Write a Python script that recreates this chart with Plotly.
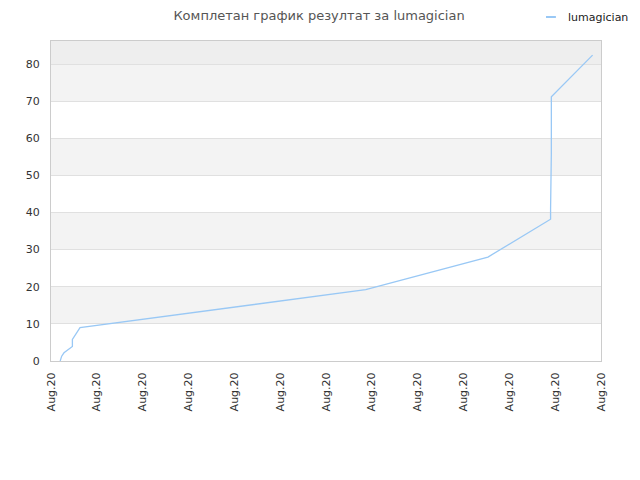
import plotly.graph_objects as go

# results over one day (Aug 20)
times = [
    "2020-08-20 08:12", "2020-08-20 08:14", "2020-08-20 08:17", "2020-08-20 08:28",
    "2020-08-20 08:28", "2020-08-20 08:33", "2020-08-20 08:38", "2020-08-20 14:52",
    "2020-08-20 17:32", "2020-08-20 18:54", "2020-08-20 18:54", "2020-08-20 18:55",
    "2020-08-20 18:55", "2020-08-20 19:49",
]
scores = [0, 1.3, 2.2, 3.9, 5.8, 7.6, 9.0, 19.2, 28.0, 38.2, 40.9, 56.0, 71.2, 82.4]

player = "lumagician"
title = "Комплетан график резултат за lumagician"
line_color = "#99c8f5"

fig = go.Figure()
fig.add_trace(go.Scatter(
    x=times, y=scores, mode="lines", name=player,
    line=dict(color=line_color, width=1.3), showlegend=False,
))

# alternating background bands
shapes = []
for lo in range(10, 80, 20):
    shapes.append(dict(type="rect", xref="paper", yref="y", x0=0, x1=1, y0=lo, y1=lo + 10,
                       fillcolor="#f3f3f3", line_width=0, layer="below"))
shapes.append(dict(type="rect", xref="paper", yref="y", x0=0, x1=1, y0=80, y1=86.2,
                   fillcolor="#eeeeee", line_width=0, layer="below"))
# small legend swatch (top right)
shapes.append(dict(type="line", xref="paper", yref="paper", x0=0.9, x1=0.918, y0=1.075, y1=1.075,
                   line=dict(color=line_color, width=2)))

fig.update_layout(
    width=640, height=480,
    title=dict(text=title, x=0.486, xanchor="center", yref="container", y=0.984, yanchor="middle",
               font=dict(family="DejaVu Sans", size=13, color="#555555")),
    font=dict(family="DejaVu Sans", size=11, color="#333333"),
    paper_bgcolor="white", plot_bgcolor="white",
    margin=dict(l=43, r=47, t=33, b=127, autoexpand=False),
    shapes=shapes,
    annotations=[dict(text=player, xref="paper", yref="paper", x=0.936, y=1.075,
                      xanchor="left", yanchor="middle", showarrow=False,
                      font=dict(size=11, color="#222222"))],
)
fig.update_xaxes(
    type="date", range=["2020-08-20 08:00", "2020-08-20 20:00"],
    dtick=3600000, tickformat="%b.%d", tickangle=-90, automargin=False,
    showgrid=False, showline=True, linecolor="#cccccc", mirror=True,
    ticks="outside", ticklen=6, tickcolor="rgba(0,0,0,0)", zeroline=False,
)
fig.update_yaxes(
    range=[0, 86.2], dtick=10, showgrid=True, gridcolor="#e0e0e0", automargin=False,
    showline=True, linecolor="#cccccc", mirror=True, zeroline=False,
    ticks="outside", ticklen=8, tickcolor="rgba(0,0,0,0)",
)

fig.write_html("out.html")
